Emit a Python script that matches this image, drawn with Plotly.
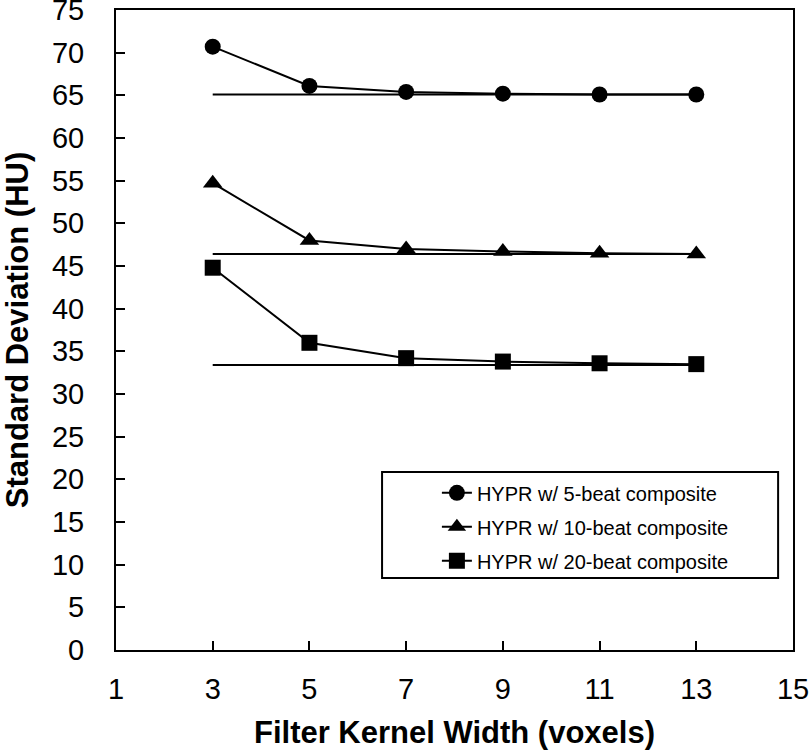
import plotly.graph_objects as go

kernel_width = [3, 5, 7, 9, 11, 13]
sd_5beat = [70.7, 66.1, 65.4, 65.2, 65.1, 65.1]
sd_10beat = [54.7, 48.0, 47.0, 46.7, 46.5, 46.4]
sd_20beat = [44.8, 36.0, 34.2, 33.8, 33.6, 33.5]
ref_x = [3, 13]
ref_5beat = 65.1
ref_10beat = 46.4
ref_20beat = 33.4

names = ["HYPR w/ 5-beat composite", "HYPR w/ 10-beat composite", "HYPR w/ 20-beat composite"]
series = [sd_5beat, sd_10beat, sd_20beat]
symbols = ["circle", "triangle-up", "square"]
sizes = [16, 17, 16]
refs = [ref_5beat, ref_10beat, ref_20beat]

fig = go.Figure()
for r in refs:
    fig.add_trace(go.Scatter(x=ref_x, y=[r, r], mode="lines",
                             line=dict(color="black", width=2), showlegend=False, hoverinfo="skip"))
for i, (name, ys, sym, sz) in enumerate(zip(names, series, symbols, sizes)):
    fig.add_trace(go.Scatter(x=kernel_width, y=ys, mode="lines+markers", name=name,
                             legendgroup=f"g{i}",
                             line=dict(color="black", width=2),
                             marker=dict(symbol=sym, size=sz, color="black")))

# legend frame
fig.add_shape(type="rect", xref="paper", yref="paper",
              x0=0.393, x1=0.978, y0=0.1125, y1=0.278,
              line=dict(color="black", width=2), fillcolor="rgba(0,0,0,0)")

fig.update_layout(
    width=810, height=750,
    margin=dict(l=116, r=17, t=10, b=100),
    paper_bgcolor="white", plot_bgcolor="white",
    font=dict(family="Liberation Sans, Arial, sans-serif", color="black"),
    legend=dict(x=0.474, y=0.276, xanchor="left", yanchor="top",
                borderwidth=0, bgcolor="rgba(0,0,0,0)",
                font=dict(size=20), tracegroupgap=5),
    xaxis=dict(range=[1, 15], tickvals=[1, 3, 5, 7, 9, 11, 13, 15],
               ticks="inside", ticklen=9, tickwidth=2, tickcolor="black",
               showline=True, linewidth=2, linecolor="black", mirror=True,
               showgrid=False, zeroline=False, tickfont=dict(size=29),
               ticklabelstandoff=12, automargin=False, ticklabeloverflow="allow",
               title=dict(text="<b>Filter Kernel Width (voxels)</b>", font=dict(size=31), standoff=18)),
    yaxis=dict(range=[0, 75], tickvals=list(range(0, 80, 5)),
               ticks="inside", ticklen=9, tickwidth=2, tickcolor="black",
               showline=True, linewidth=2, linecolor="black", mirror=True,
               showgrid=False, zeroline=False, tickfont=dict(size=29),
               ticklabelstandoff=24, automargin=False, ticklabeloverflow="allow",
               title=dict(text="<b>Standard Deviation (HU)</b>", font=dict(size=31), standoff=33)),
)

fig.write_html("out.html", config={"displayModeBar": False},
               post_script="document.body.style.margin='0';")
